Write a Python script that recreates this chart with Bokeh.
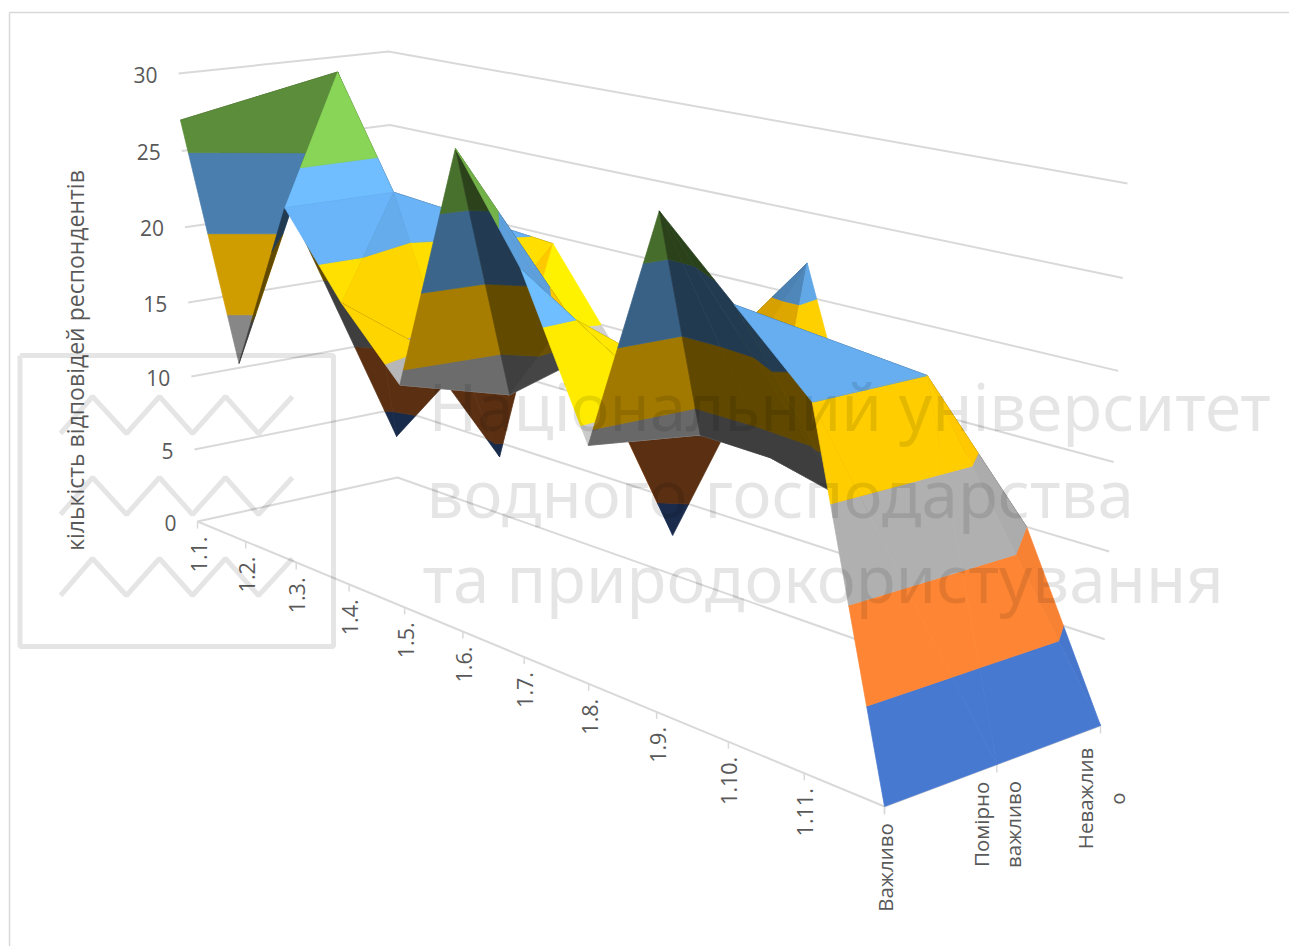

import math
import numpy as np
from bokeh.plotting import figure
from bokeh.models import ColumnDataSource
from bokeh.core.properties import value
from bokeh.embed import file_html
from bokeh.resources import INLINE

# ---- chart values ----
rows = ["1.1.","1.2.","1.3.","1.4.","1.5.","1.6.","1.7.","1.8.","1.9.","1.10.","1.11.",""]
series = ["Важливо", "Помірно важливо", "Неважливо"]
important = [27,12,23,18,14,29,23,14,28,24,20,0]
moderate  = [20,30,23,12.5,12,18,12,13.1,13,12,20,0]
unimportant = [3,8,4,19.5,14,2.6,12,22,8,14,10,0]
z_ticks = [0,5,10,15,20,25,30]
band_colors = ["#4472C4","#ED7D31","#A5A5A5","#FFC000","#5B9BD5","#70AD47"]
y_title = "кількість відповідей респондентів"
watermark = ["Національний університет","водного господарства","та природокористування"]

W, H = 1289, 946
p = figure(width=W, height=H, x_range=(0, W), y_range=(H, 0),
           output_backend="svg", toolbar_location=None, min_border=0)
p.axis.visible = False; p.grid.visible = False; p.outline_line_color = None

# ---- camera, fitted to the box corners ----
box3 = [(0,0,0),(1,0,0),(1,1,0),(0,1,0),(0,0,1),(0,1,1),(1,1,1)]
box2 = [(197,521),(884,806),(1100,725),(397,477),(178,73),(388,51),(1127,183)]
def dlt3():
    A=[]
    for (X,Y,Z),(u,v) in zip(box3,box2):
        A.append([X,Y,Z,1,0,0,0,0,-u*X,-u*Y,-u*Z,-u])
        A.append([0,0,0,0,X,Y,Z,1,-v*X,-v*Y,-v*Z,-v])
    return np.linalg.svd(np.array(A,float))[2][-1].reshape(3,4)
M = dlt3()
def homog(pts2):
    A=[]
    for (X,Y),(u,v) in zip([(0,0),(1,0),(1,1),(0,1)],pts2):
        A.append([X,Y,1,0,0,0,-u*X,-u*Y,-u])
        A.append([0,0,0,X,Y,1,-v*X,-v*Y,-v])
    return np.linalg.svd(np.array(A,float))[2][-1].reshape(3,3)
h = M@np.array([1,0,1,1.0]); top_front=(h[0]/h[2],h[1]/h[2])
Hf = homog([box2[0],box2[1],box2[2],box2[3]])
Ht = homog([box2[4],top_front,box2[6],box2[5]])
def ap(H_,x,y):
    q=H_@np.array([x,y,1.0]); return q[:2]/q[2]
n_i, n_j = len(rows)-1, len(series)-1
def P(i,j,z):
    x,y,s=i/n_i,j/n_j,z/30
    a,b=ap(Hf,x+.036*x*(1-x),y),ap(Ht,x,y)
    c=M[2,0]*x+M[2,1]*y+M[2,3]; d=M[2,2]
    t=s*(c+d)/(c+d*s)
    q=a+t*(b-a)
    return float(q[0]),float(q[1])
C=np.linalg.svd(M)[2][-1]; C=C/C[3]
cam_i,cam_j=C[0]*n_i,C[1]*n_j

# ---- walls ----
GRID="#D9D9D9"
for z in z_ticks:
    a,b,c=P(0,0,z),P(0,n_j,z),P(n_i,n_j,z)
    p.line([a[0],b[0],c[0]],[a[1],b[1],c[1]],line_color=GRID,line_width=2)
a,b,c=P(0,0,0),P(n_i,0,0),P(n_i,n_j,0)
p.line([a[0],b[0],c[0]],[a[1],b[1],c[1]],line_color=GRID,line_width=2)
for i in range(n_i+1):
    a=P(i,0,0); p.line([a[0],a[0]],[a[1],a[1]+7],line_color=GRID,line_width=1.5)
for j in range(n_j+1):
    a=P(n_i,j,0); p.line([a[0],a[0]],[a[1],a[1]+8],line_color=GRID,line_width=1.5)

# ---- surface ----
Z=np.array([important,moderate,unimportant],float).T
def clip(poly,lo,hi):
    def cut(pts,keep,lim):
        out=[]
        for k in range(len(pts)):
            u,v=pts[k],pts[(k+1)%len(pts)]
            ku,kv=keep(u[2]),keep(v[2])
            if ku: out.append(u)
            if ku!=kv:
                f=(lim-u[2])/(v[2]-u[2])
                out.append(tuple(u[m]+f*(v[m]-u[m]) for m in range(3)))
        return out
    r=cut(poly,lambda z:z>=lo,lo)
    if r: r=cut(r,lambda z:z<=hi,hi)
    return r
def shade(tri):
    (i0,j0,z0),(i1,j1,z1),(i2,j2,z2)=tri
    s,t=np.linalg.solve([[i1-i0,j1-j0],[i2-i0,j2-j0]],[z1-z0,z2-z0])
    def area(f):
        a,b,c=[f(*v) for v in tri]
        return (b[0]-a[0])*(c[1]-a[1])-(b[1]-a[1])*(c[0]-a[0])
    under=area(P)*area(lambda i,j,z:P(i,j,0))<0
    if under:
        return min(.75,.38+.0013*s*s*math.exp(-(t/8)**2))
    phi=math.atan(s*.1)
    c=max(0,math.cos(phi+math.radians(39)))
    f=.68+.4*c+.16*c**20*math.exp(-(t/6)**2)
    if 0<t<8: f+=.12*math.sin(math.pi*t/8)
    elif t>=8: f-=.0135*t
    else: f+=.004*t
    return f
def col(base,f):
    r,g,b=[int(base[k:k+2],16) for k in (1,3,5)]
    return "#%02X%02X%02X"%tuple(int(min(255,v*f)) for v in (r,g,b))
def side(a,b,i,j):
    return (b[0]-a[0])*(j-a[1])-(b[1]-a[1])*(i-a[0])
tris=[]
for i in range(n_i):
    for j in range(n_j):
        a=(i,j,Z[i,j]);b=(i+1,j,Z[i+1,j]);c=(i+1,j+1,Z[i+1,j+1]);d=(i,j+1,Z[i,j+1])
        if a[2]+c[2]>=b[2]+d[2]: u,v,t1,t2=a,c,b,d
        else: u,v,t1,t2=b,d,a,c
        pair=[(u,v,t1),(u,v,t2)]
        # the triangle on the camera's side of the diagonal is painted last
        if side(u,v,t1[0],t1[1])*side(u,v,cam_i,cam_j)>0: pair=pair[::-1]
        tris.append(((i,-abs(j+.5-cam_j)),pair))
tris.sort(key=lambda q:q[0])
xs,ys,cs=[],[],[]
for _,pair in tris:
    for tr in pair:
        f=shade(tr)
        for b,colr in enumerate(band_colors):
            piece=clip(list(tr),b*5,(b+1)*5)
            if len(piece)<3: continue
            pts=[P(*v) for v in piece]
            xs.append([q[0] for q in pts]);ys.append([q[1] for q in pts]);cs.append(col(colr,f))
p.patches(xs="x",ys="y",fill_color="c",line_color="c",line_width=.7,
          source=ColumnDataSource(dict(x=xs,y=ys,c=cs)))

# ---- labels ----
TXT="#595959"; FONT=value("Open Sans")
for z in z_ticks:
    a=P(0,0,z)
    p.text([a[0]-21],[a[1]+1],text=[str(z)],text_align="right",text_baseline="middle",
           text_font=FONT,text_font_size="21px",text_color=TXT)
for i,lab in enumerate(rows):
    if not lab: continue
    a=P(i,0,0)
    p.text([a[0]+1],[a[1]+15],text=[lab],angle=math.pi/2,text_align="right",text_baseline="middle",
           text_font=FONT,text_font_size="21.5px",text_color=TXT)
series_lines=[["Важливо"],["Помірно","важливо"],["Неважлив","о"]]
series_off=[61,60,73]
for j,lines in enumerate(series_lines):
    a=P(n_i,j,0)
    for k,l in enumerate(lines):
        dx=(k-(len(lines)-1)/2)*32
        p.text([a[0]+dx],[a[1]+series_off[j]],text=[l],angle=math.pi/2,text_align="center",text_baseline="middle",
               text_font=FONT,text_font_size="20.5px",text_color=TXT)
p.text([74],[360],text=[y_title],angle=math.pi/2,text_align="center",text_baseline="middle",
       text_font=FONT,text_font_size="23px",text_color=TXT)

# ---- chart frame ----
p.line([9,9,1289],[946,12,12],line_color=GRID,line_width=1.5)

# ---- watermark ----
for txt,x,y in zip(watermark,[428,426,422],[405,492,577]):
    p.text([x],[y],text=[txt],text_baseline="alphabetic",text_font=value("Noto Sans"),
           text_font_size="65.5px",text_color="#000000",text_alpha=.1)
p.line([19.5,333,333,19.5,19.5],[355,355,646,646,355],line_color="#000000",line_alpha=.1,line_width=5)
zx=[60,92,126,159,192,225,258,292]
for off in (0,81,162):
    zy=[433+off if k%2==0 else 396+off for k in range(8)]
    p.line(zx,zy,line_color="#000000",line_alpha=.1,line_width=5)

open("out.html","w").write(file_html(p,INLINE))
